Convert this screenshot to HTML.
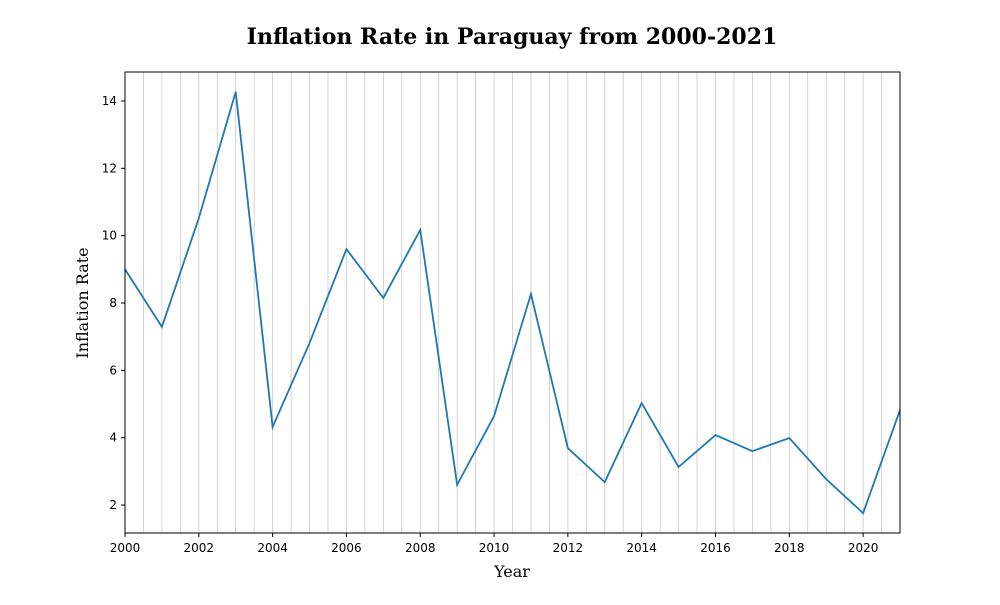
<!DOCTYPE html>
<html><head><meta charset="utf-8"><style>
body{margin:0;background:#fff;}
svg text{font-family:"DejaVu Sans","Liberation Sans",sans-serif;}
</style></head><body>
<svg id="chart" width="1000" height="600" xmlns="http://www.w3.org/2000/svg">
<rect width="1000" height="600" fill="#fff"/>
<text x="512" y="44" text-anchor="middle" font-size="22" font-weight="bold" style="font-family:'DejaVu Serif','Liberation Serif',serif">Inflation Rate in Paraguay from 2000-2021</text>
<g id="grid"></g>
<g id="xticks"></g>
<g id="yticks"></g>
<g id="series"></g>
<rect x="125" y="72" width="775" height="461" fill="none" stroke="#000" stroke-width="1"/>
<text x="512" y="577" text-anchor="middle" font-size="16" style="font-family:'DejaVu Serif','Liberation Serif',serif">Year</text>
<text transform="translate(88,303) rotate(-90)" text-anchor="middle" font-size="16" style="font-family:'DejaVu Serif','Liberation Serif',serif">Inflation Rate</text>
</svg>
<script>
const years=[2000,2001,2002,2003,2004,2005,2006,2007,2008,2009,2010,2011,2012,2013,2014,2015,2016,2017,2018,2019,2020,2021];
const inflation=[9.0,7.29,10.52,14.27,4.32,6.81,9.6,8.15,10.17,2.6,4.64,8.27,3.69,2.68,5.03,3.13,4.08,3.6,3.99,2.77,1.76,4.82];
const xTickLabels=[2000,2002,2004,2006,2008,2010,2012,2014,2016,2018,2020];
const yTickLabels=[2,4,6,8,10,12,14];
const NS="http://www.w3.org/2000/svg";
const X0=125,X1=900,Y0=72,Y1=533,xmin=2000,xmax=2021,ymin=1.17,ymax=14.86;
function xs(v){return X0+(v-xmin)/(xmax-xmin)*(X1-X0);}
function ys(v){return Y1-(v-ymin)/(ymax-ymin)*(Y1-Y0);}
function mk(t,a,p){const e=document.createElementNS(NS,t);for(const k in a)e.setAttribute(k,a[k]);p.appendChild(e);return e;}
const grid=document.getElementById('grid');
for(let v=xmin+0.5;v<xmax;v+=0.5){
 const l=mk('line',{x1:xs(v),x2:xs(v),y1:Y0,y2:Y1,stroke:'#c8c8c8','stroke-width':0.8},grid);
 
 
}
const xt=document.getElementById('xticks');
xTickLabels.forEach(v=>{
 mk('line',{x1:xs(v),x2:xs(v),y1:Y1,y2:Y1+4,stroke:'#000'},xt);
 const t=mk('text',{x:xs(v),y:Y1+19,'text-anchor':'middle','font-size':12},xt);
 t.textContent=v;
 
 
});
const yt=document.getElementById('yticks');
yTickLabels.forEach(v=>{
 mk('line',{x1:X0-4,x2:X0,y1:ys(v),y2:ys(v),stroke:'#000'},yt);
 const t=mk('text',{x:X0-8,y:ys(v)+4,'text-anchor':'end','font-size':12},yt);
 t.textContent=v;
 
 
});
const s=document.getElementById('series');
const p=mk('polyline',{points:years.map((y,i)=>xs(y)+','+ys(inflation[i])).join(' '),fill:'none',stroke:'#1f77b4','stroke-width':1.8},s);


</script>
</body></html>
